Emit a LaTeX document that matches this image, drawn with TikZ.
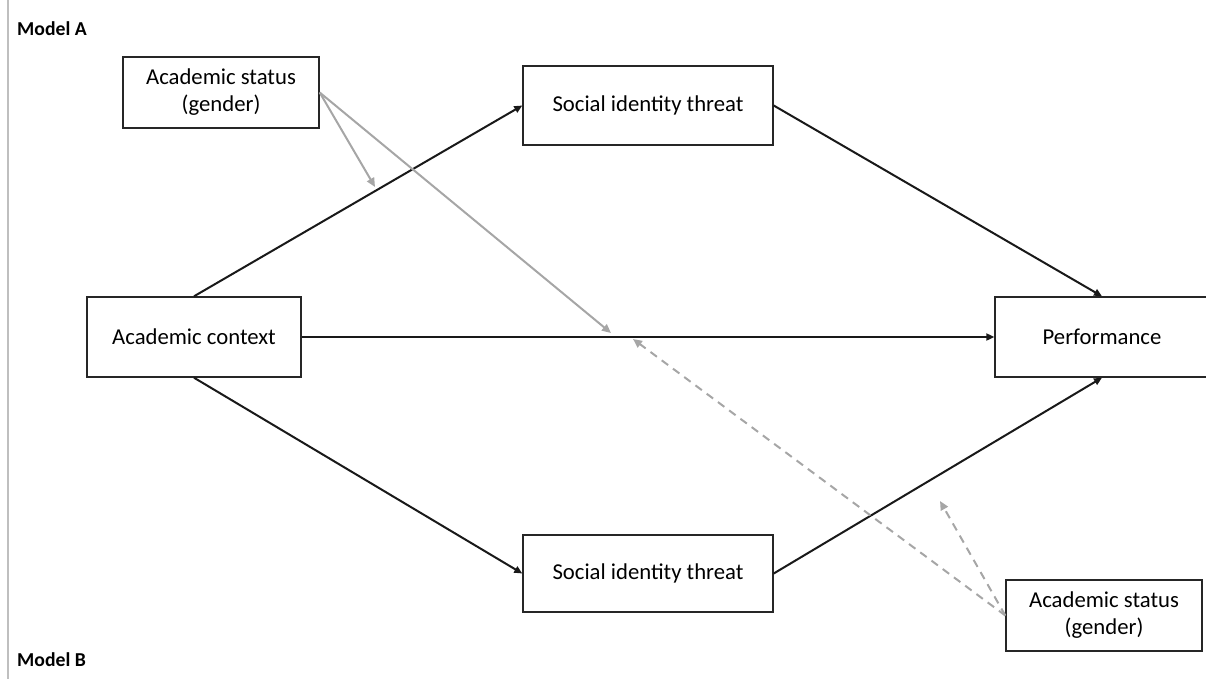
\documentclass[tikz,border=0pt]{standalone}
\usepackage{fontspec}
\setmainfont{Carlito}
\usetikzlibrary{arrows.meta}
\definecolor{lgray}{HTML}{A6A6A6}
\definecolor{edgegray}{HTML}{BFBFBF}
\tikzset{
  box/.style={draw=black!85, line width=1.4pt, fill=white, align=center, font=\fontsize{22.7}{27}\selectfont, inner sep=0pt},
  path/.style={draw=black!90, line width=2pt, -{Triangle[length=8pt,width=7pt]}},
  modpath/.style={draw=lgray, line width=2pt, -{Triangle[length=9pt,width=8pt]}},
  moddash/.style={modpath, dash pattern=on 8pt off 6pt},
  lbl/.style={font=\fontsize{19.7}{23}\selectfont\bfseries, anchor=base west, inner sep=0pt}
}
\begin{document}
\begin{tikzpicture}[x=1pt,y=-1pt]
\useasboundingbox (0,0) rectangle (1206,679);
\clip (0,0) rectangle (1206,679);
\draw[edgegray, line width=1.3pt] (8,0) -- (8,679);
\node[lbl] (ma) at (17,36) {Model A};
\node[lbl] (mb) at (17,666) {Model B};
\node[box, minimum width=196pt, minimum height=71pt] (as1) at (221,92.5) {Academic status\\(gender)};
\node[box, minimum width=250pt, minimum height=79pt] (sita) at (648,105.5) {Social identity threat};
\node[box, minimum width=214pt, minimum height=80pt] (ac) at (194,337) {Academic context};
\node[box, minimum width=214pt, minimum height=80pt] (perf) at (1102,337) {Performance};
\node[box, minimum width=250pt, minimum height=77pt] (sitb) at (648,573.5) {Social identity threat};
\node[box, minimum width=196pt, minimum height=71pt] (as2) at (1104,615.5) {Academic status\\(gender)};
\draw[path] (ac.north) -- (sita.west);
\draw[path] (sita.east) -- (perf.north);
\draw[path] (ac.east) -- (perf.west);
\draw[path] (ac.south) -- (sitb.west);
\draw[path] (sitb.east) -- (perf.south);
\coordinate (m1) at (375,187);
\coordinate (m2) at (611,333);
\coordinate (m3) at (633,339);
\coordinate (m4) at (940,501);
\draw[modpath] (as1.east) -- (m1);
\draw[modpath] (as1.east) -- (m2);
\draw[moddash] (as2.west) -- (m3);
\draw[moddash] (as2.west) -- (m4);
\end{tikzpicture}
\end{document}
